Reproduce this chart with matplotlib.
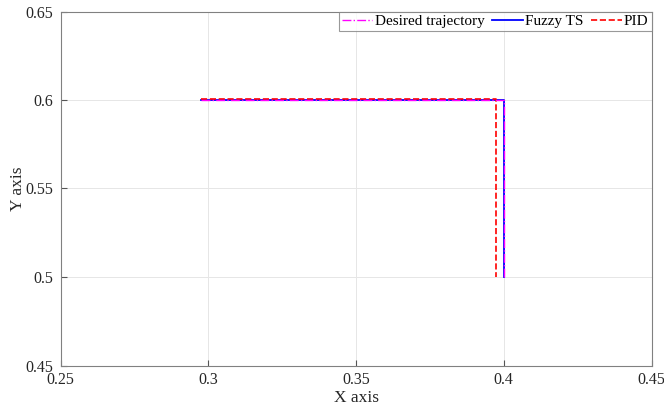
import numpy as np
import matplotlib
matplotlib.use("Agg")
import matplotlib.pyplot as plt

plt.rcParams['font.family'] = ['Liberation Serif', 'DejaVu Serif']

# trajectory corner points
x_des = [0.2975, 0.4, 0.4]
y_des = [0.6, 0.6, 0.5]
x_fuzzy = [0.2975, 0.4, 0.4]
y_fuzzy = [0.6, 0.6, 0.5]
x_pid = [0.2975, 0.3975, 0.3975]
y_pid = [0.6003, 0.6003, 0.5]

xticks = [0.25, 0.3, 0.35, 0.4, 0.45]
yticks = [0.45, 0.5, 0.55, 0.6, 0.65]

fig = plt.figure(figsize=(6.64, 4.12), dpi=100)
ax = fig.add_axes([60.5/664, 1 - 365.5/412, 591/664, 354/412])

l1, = ax.plot(x_des, y_des, color='#ff00ff', ls='-.', lw=1.0, zorder=4, label='Desired trajectory')
l2, = ax.plot(x_fuzzy, y_fuzzy, color='#0000ff', ls='-', lw=1.3, zorder=2, label='Fuzzy TS')
l3, = ax.plot(x_pid, y_pid, color='#ff0000', ls='--', lw=1.2, zorder=3, label='PID')

ax.set_xlim(0.25, 0.45)
ax.set_ylim(0.45, 0.65)
ax.set_xticks(xticks)
ax.set_yticks(yticks)
ax.set_xticklabels(['0.25', '0.3', '0.35', '0.4', '0.45'])
ax.set_yticklabels(['0.45', '0.5', '0.55', '0.6', '0.65'])
ax.grid(True, color='#e6e6e6', lw=0.7)
ax.set_axisbelow(True)
ax.tick_params(direction='in', length=4, color='#555555', labelsize=11.5, labelcolor='#262626')
ax.tick_params(axis='x', pad=5)
ax.tick_params(axis='y', pad=5)
for s in ax.spines.values():
    s.set_color('#808080')
    s.set_linewidth(0.8)

ax.set_xlabel('X axis', fontsize=12.5, color='#262626', labelpad=1)
ax.set_ylabel('Y axis', fontsize=12.5, color='#262626', labelpad=0)

leg = ax.legend(handles=[l1, l2, l3], loc='upper right', ncol=3, fontsize=11,
                frameon=True, fancybox=False, borderaxespad=0.0, handlelength=2.0,
                handletextpad=0.15, columnspacing=0.5, borderpad=0.2)
leg.get_frame().set_edgecolor('#808080')
leg.get_frame().set_linewidth(0.8)

fig.savefig('out.png', dpi=100)
